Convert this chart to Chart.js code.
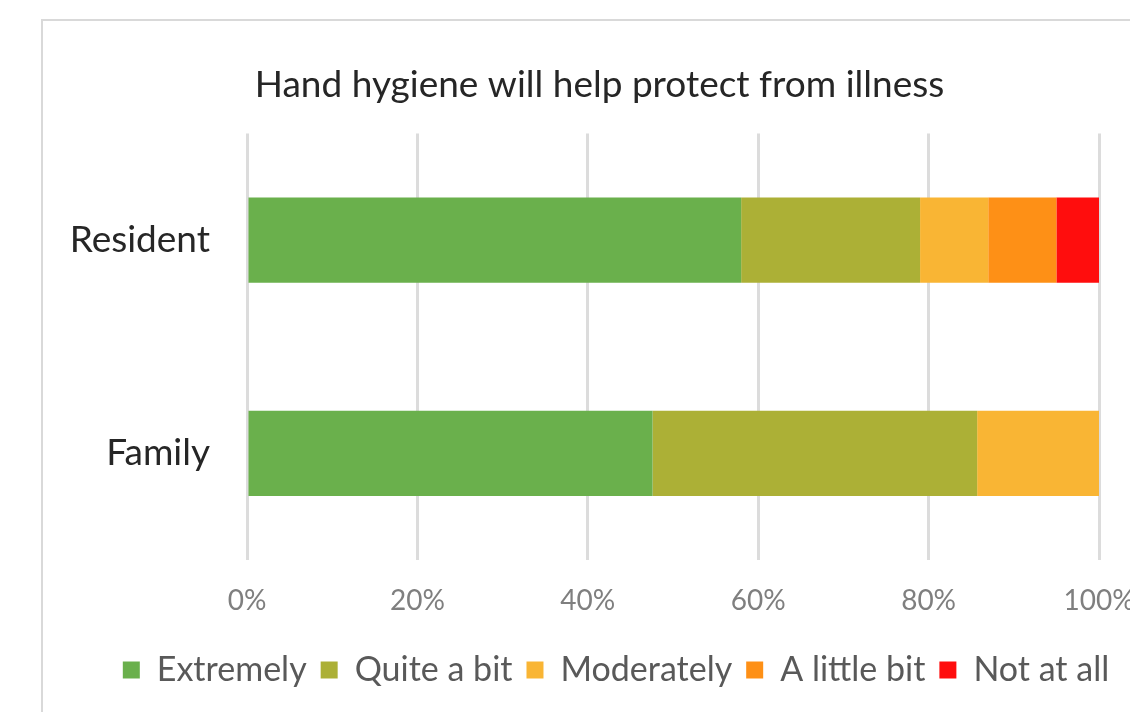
<!DOCTYPE html>
<html>
<head>
<meta charset="utf-8">
<script src="https://cdn.jsdelivr.net/npm/chart.js@4"></script>
<style>
  html, body { margin: 0; padding: 0; background: #ffffff; }
  body { width: 1130px; height: 712px; position: relative; overflow: hidden; }
  .frame {
    position: absolute; left: 41px; top: 19px; width: 1200px; height: 800px;
    border: 2px solid #d9d9d9; box-sizing: border-box;
  }
  .wrap { position: absolute; left: 0; top: 0; width: 1130px; height: 712px; }
</style>
</head>
<body>
<div class="frame"></div>
<div class="wrap"><canvas id="chart"></canvas></div>
<script>
const categories = ["Resident", "Family"];
const seriesNames = ["Extremely", "Quite a bit", "Moderately", "A little bit", "Not at all"];
const extremely = [58, 47.6];
const quiteABit = [21, 38.1];
const moderately = [8, 14.3];
const aLittleBit = [8, 0];
const notAtAll = [5, 0];
const tickLabels = ["0%", "20%", "40%", "60%", "80%", "100%"];
const colors = ["#6ab04c", "#acb036", "#f9b534", "#fe9016", "#ff0d0d"];

const fontFamily = "Lato, 'Open Sans', sans-serif";

// the title and legend sit a bit right of the canvas centre, as in the chart frame
const shiftBlocks = {
  id: "shiftBlocks",
  afterLayout(chart) {
    chart.titleBlock.left = 69;
    chart.titleBlock.right = 1130;
    chart.legend.left = 102;
    chart.legend.right = 1130;
  }
};

const chart = new Chart(document.querySelector("#chart"), {
  type: "bar",
  data: {
    labels: categories,
    datasets: [extremely, quiteABit, moderately, aLittleBit, notAtAll].map((values, i) => ({
      label: seriesNames[i],
      data: values,
      backgroundColor: colors[i],
      borderWidth: 0,
      categoryPercentage: 0.8,
      barPercentage: 0.5
    }))
  },
  options: {
    indexAxis: "y",
    responsive: true,
    maintainAspectRatio: false,
    animation: false,
    layout: {
      padding: { left: 0, right: 31, top: 0, bottom: 15 }
    },
    scales: {
      x: {
        stacked: true,
        min: 0,
        max: 100,
        border: { display: false },
        grid: { color: "#dcdcdc", lineWidth: 3, drawTicks: false },
        ticks: {
          stepSize: 20,
          padding: 24,
          color: "#7f7f7f",
          font: { family: fontFamily, size: 28 },
          callback: (value, index) => tickLabels[index]
        },
        afterFit: (scale) => {
          scale.height = 79;
          scale.paddingLeft = 0;
          scale.paddingRight = 0;
        }
      },
      y: {
        stacked: true,
        border: { display: false },
        grid: { display: false, drawTicks: false },
        ticks: {
          padding: 37,
          color: "#262626",
          font: { family: fontFamily, size: 37 }
        },
        afterFit: (scale) => { scale.width = 247; }
      }
    },
    plugins: {
      title: {
        display: true,
        text: "Hand hygiene will help protect from illness",
        color: "#262626",
        font: { family: fontFamily, size: 37, weight: "normal" },
        padding: { top: 63, bottom: 26 }
      },
      legend: {
        position: "bottom",
        labels: {
          color: "#595959",
          font: { family: fontFamily, size: 34 },
          boxWidth: 17,
          boxHeight: 17,
          padding: 14
        }
      },
      tooltip: { enabled: false }
    }
  },
  plugins: [shiftBlocks]
});
</script>
</body>
</html>
